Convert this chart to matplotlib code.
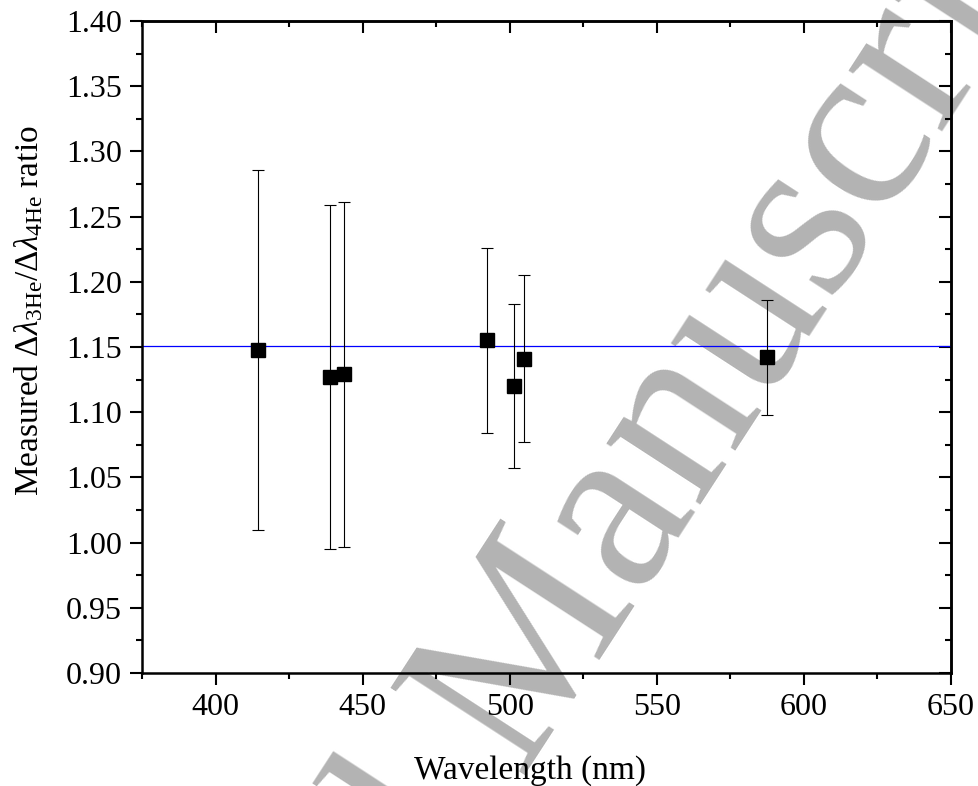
import numpy as np
import matplotlib
matplotlib.use("Agg")
import matplotlib.pyplot as plt
from matplotlib.ticker import MultipleLocator, FormatStrFormatter

plt.rcParams['font.family'] = ['Liberation Serif', 'DejaVu Serif']
plt.rcParams['mathtext.fontset'] = 'custom'
plt.rcParams['mathtext.rm'] = 'Liberation Serif'
plt.rcParams['mathtext.it'] = 'Liberation Serif:italic'

# He I lines (nm) and measured width ratio
wavelength = [414.4, 438.8, 443.8, 492.2, 501.6, 504.8, 587.6]
ratio = [1.148, 1.127, 1.129, 1.155, 1.120, 1.141, 1.142]
ratio_err = [0.138, 0.132, 0.132, 0.071, 0.063, 0.064, 0.044]
mean_ratio = 1.151

W, H = 979, 786
fig = plt.figure(figsize=(W / 100, H / 100), dpi=100)
ax = fig.add_axes([142 / W, 1 - 673 / H, (951 - 142) / W, (673 - 21) / H])
ax.set_facecolor('none')
ax.set_zorder(2)

# watermark behind the plot
ang = 57
fs = 175
em = fs / 72 * 100
org = np.array([518, 775])
b = np.array([np.cos(np.radians(ang)), -np.sin(np.radians(ang))])
p2 = org - b * 0.25 * em
wm = dict(fontsize=fs, color='#b3b3b3', rotation=ang, rotation_mode='anchor',
          va='baseline', zorder=0)
fig.text(org[0] / W, 1 - org[1] / H, 'Manuscript', ha='left', **wm)
fig.text(p2[0] / W, 1 - p2[1] / H, 'Accepted', ha='right', **wm)

ax.axhline(mean_ratio, color='#0000ff', lw=0.9, zorder=1)
ax.errorbar(wavelength, ratio, yerr=ratio_err, fmt='s', color='black',
            ms=10, ecolor='black', elinewidth=0.8, capsize=4.5, capthick=0.8, zorder=3)

ax.set_xlim(375, 650)
ax.set_ylim(0.90, 1.40)
ax.xaxis.set_major_locator(MultipleLocator(50))
ax.xaxis.set_minor_locator(MultipleLocator(25))
ax.yaxis.set_major_locator(MultipleLocator(0.05))
ax.yaxis.set_minor_locator(MultipleLocator(0.025))
ax.yaxis.set_major_formatter(FormatStrFormatter('%.2f'))

for s in ax.spines.values():
    s.set_linewidth(1.8)
ax.tick_params(which='both', direction='out', width=1.5, labelsize=23)
ax.tick_params(which='major', length=8.5, pad=6)
ax.tick_params(which='minor', length=4.5)

top = ax.secondary_xaxis('top')
top.xaxis.set_major_locator(MultipleLocator(50))
top.xaxis.set_minor_locator(MultipleLocator(25))
top.tick_params(which='both', direction='in', width=1.5, labeltop=False)
top.tick_params(which='major', length=8.5)
top.tick_params(which='minor', length=4.5)
right = ax.secondary_yaxis('right')
right.yaxis.set_major_locator(MultipleLocator(0.05))
right.yaxis.set_minor_locator(MultipleLocator(0.025))
right.tick_params(which='both', direction='in', width=1.5, labelright=False)
right.tick_params(which='major', length=8.5)
right.tick_params(which='minor', length=4.5)
for sec in (top, right):
    for s in sec.spines.values():
        s.set_linewidth(1.8)

ax.set_xlabel('Wavelength (nm)', fontsize=24)
ax.xaxis.set_label_coords(0.48, -0.126)
ax.set_ylabel(r'Measured $\Delta\lambda_{\mathrm{3He}}/\Delta\lambda_{\mathrm{4He}}$ ratio',
              fontsize=24)
ax.yaxis.set_label_coords(-0.12, 0.555)

fig.savefig('out.png', dpi=100)
